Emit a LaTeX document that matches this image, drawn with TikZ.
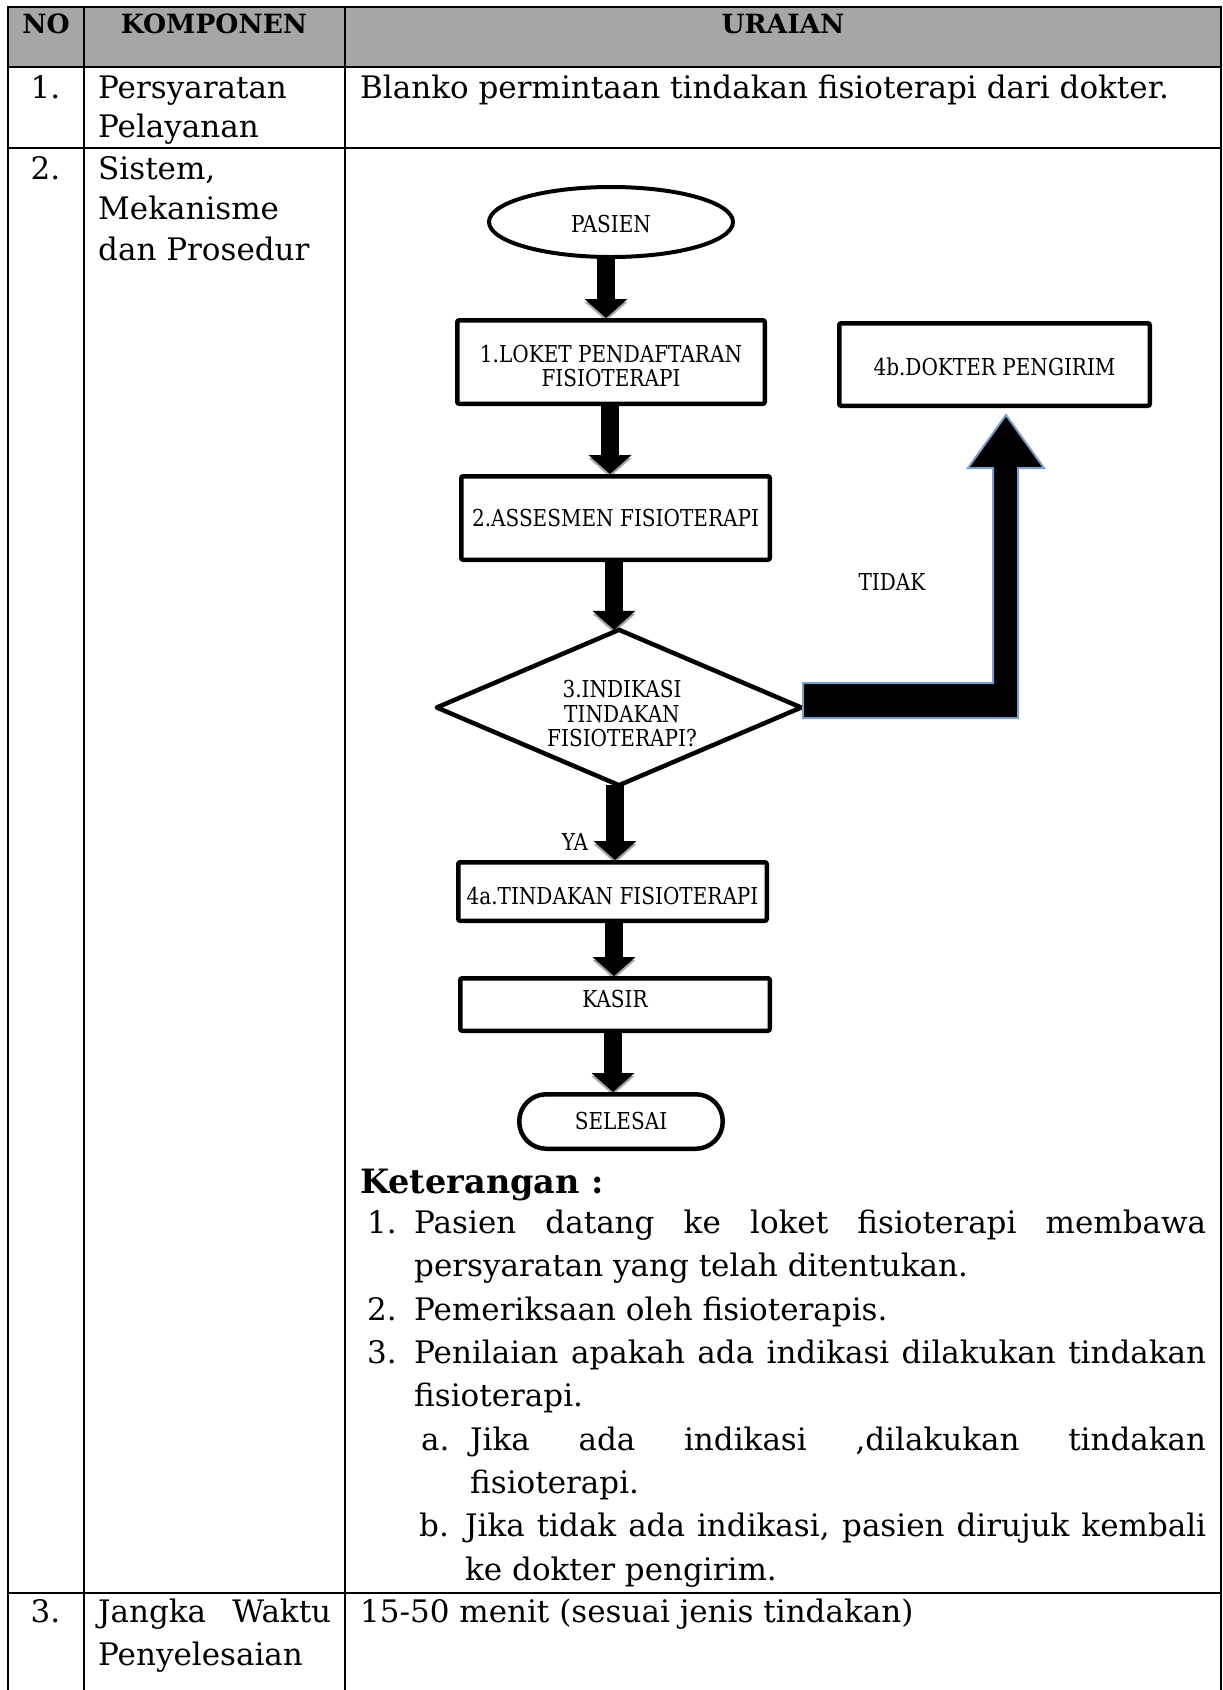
\documentclass[tikz,border=0pt]{standalone}
\usepackage{fontspec}
\setmainfont{DejaVu Serif}
\newfontfamily\flowfam[FakeStretch=0.86]{DejaVu Serif}
\usetikzlibrary{shapes.geometric,calc,arrows.meta,backgrounds}
\definecolor{hdrgray}{HTML}{A6A6A6}
\definecolor{elbowblue}{HTML}{7BA0C8}
\newcommand\myTab{\fontsize{31}{38}\selectfont}
\newcommand\myHead{\fontsize{26.5}{32}\selectfont\bfseries}
\newcommand\myFlow{\flowfam\fontsize{23.3}{24.5}\selectfont}
\tikzset{
  tline/.style={line width=2.5pt},
  txt/.style={anchor=base west, inner sep=0pt, font=\myTab},
  ctxt/.style={anchor=base, inner sep=0pt, font=\myTab},
  hdr/.style={anchor=base, inner sep=0pt, font=\myHead},
  fbox/.style={draw, fill=white, line width=4.5pt, rounded corners=2pt, font=\myFlow, align=center, inner sep=0pt},
  blk/.style={line width=18pt, black, -{Triangle[width=43pt,length=19pt,line width=0pt]}},
  blksh/.style={line width=18pt, black!35, -{Triangle[width=43pt,length=19pt,line width=0pt]}, transform canvas={yshift=-3pt}},
  flbl/.style={font=\myFlow, inner sep=0pt}
}
\begin{document}
\begin{tikzpicture}[x=1pt,y=-1pt]
\useasboundingbox (0,0) rectangle (1223,1690);
% table
\fill[hdrgray] (8,7) rectangle (1221,67);
\draw[tline] (8,1690) -- (8,7) -- (1221,7) -- (1221,1690);
\draw[tline] (84,7) -- (84,1690);
\draw[tline] (345,7) -- (345,1690);
\draw[tline] (8,67) -- (1221,67);
\draw[tline] (8,148) -- (1221,148);
\draw[tline] (8,1593) -- (1221,1593);
% header
\node[hdr] (hno) at (46,33) {NO};
\node[hdr] (hkomp) at (214,33) {KOMPONEN};
\node[hdr] (hur) at (783,33) {URAIAN};
% row 1
\node[ctxt] (n1) at (45.5,98) {1.};
\node[txt] (k1a) at (98,98) {Persyaratan};
\node[txt] (k1b) at (98,137) {Pelayanan};
\node[txt] (u1) at (360,98) {Blanko permintaan tindakan fisioterapi dari dokter.};
% row 2
\node[ctxt] (n2) at (45.5,179) {2.};
\node[txt] (k2a) at (98,179) {Sistem,};
\node[txt] (k2b) at (98,219.5) {Mekanisme};
\node[txt] (k2c) at (98,260) {dan Prosedur};
% row 3
\node[ctxt] (n3) at (45.5,1622) {3.};
\node[txt] (k3a) at (98,1622) {\makebox[233pt][s]{Jangka Waktu}};
\node[txt] (k3b) at (98,1665) {Penyelesaian};
\node[txt] (u3) at (360,1622) {15-50 menit (sesuai jenis tindakan)};
% keterangan
\node[txt, font=\fontsize{33.5}{38}\selectfont\bfseries] (ket) at (360,1193) {Keterangan :};
\node[txt] (l1n) at (367,1233) {1.};
\node[txt] (l1) at (414,1233) {\makebox[792pt][s]{Pasien datang ke loket fisioterapi membawa}};
\node[txt] (l1b) at (414,1276) {persyaratan yang telah ditentukan.};
\node[txt] (l2n) at (367,1320) {2.};
\node[txt] (l2) at (414,1320) {Pemeriksaan oleh fisioterapis.};
\node[txt] (l3n) at (367,1363) {3.};
\node[txt] (l3) at (414,1363) {\makebox[792pt][s]{Penilaian apakah ada indikasi dilakukan tindakan}};
\node[txt] (l3b) at (414,1406) {fisioterapi.};
\node[txt] (lan) at (421,1450) {a.};
\node[txt] (la) at (470,1450) {\makebox[736pt][s]{Jika ada indikasi ,dilakukan tindakan}};
\node[txt] (lab) at (470,1493) {fisioterapi.};
\node[txt] (lbn) at (419,1536) {b.};
\node[txt] (lb) at (465,1536) {\makebox[741pt][s]{Jika tidak ada indikasi, pasien dirujuk kembali}};
\node[txt] (lbb) at (465,1580) {ke dokter pengirim.};
% flowchart nodes
\node[ellipse, draw, fill=white, line width=4pt, minimum width=244pt, minimum height=70pt, font=\myFlow, inner sep=0pt, text height=21pt, text depth=0pt] (pasien) at (611,222) {PASIEN};
\node[fbox, minimum width=307.5pt, minimum height=83.5pt] (box1) at (611,362) {\rule{0pt}{25pt}1.LOKET PENDAFTARAN\\FISIOTERAPI};
\node[fbox, minimum width=310.5pt, minimum height=82.5pt, text height=21pt, text depth=0pt] (doc) at (994.5,364.5) {4b.DOKTER PENGIRIM};
\node[fbox, minimum width=308.5pt, minimum height=83.5pt] (box2) at (615.5,518) {2.ASSESMEN FISIOTERAPI};
\node[minimum width=364pt, minimum height=155pt, inner sep=0pt] (dia) at (619,707.5) {};
\draw[fill=white, line width=4.5pt, line join=round] (dia.north) -- (dia.east) -- (dia.south) -- (dia.west) -- cycle;
\node[flbl, align=center] (diat) at (622,714) {3.INDIKASI\\TINDAKAN\\FISIOTERAPI?};
\node[fbox, minimum width=308.5pt, minimum height=58.5pt, text height=25.6pt, text depth=0pt] (b4a) at (612.5,891.5) {4a.TINDAKAN FISIOTERAPI};
\node[fbox, minimum width=309.5pt, minimum height=52.5pt, text height=17pt, text depth=10.8pt] (kasir) at (615,1004.5) {KASIR};
\node[fbox, rounded corners=27pt, minimum width=203.5pt, minimum height=54.5pt] (sel) at (621,1121.5) {SELESAI};
\node[flbl] (tidak) at (892,582) {TIDAK};
\node[flbl] (ya) at (575,842) {YA};
% connectors
\coordinate (a1) at ($(pasien.south)+(-5,0)$);
\coordinate (a2) at ($(box1.south)+(-1,0)$);
\coordinate (a3) at ($(box2.south)+(-1.5,0)$);
\coordinate (a4) at ($(dia.south)+(-4,0)$);
\coordinate (a5) at ($(b4a.south)+(1.5,0)$);
\coordinate (a6) at ($(kasir.south)+(-2,0)$);
\coordinate (tA) at ($(dia.east)+(2,-24.5)$);
\coordinate (tB) at ($(dia.east)+(2,10.5)$);
\coordinate (tip) at ($(doc.south)+(11.5,7)$);
\coordinate (sL) at ($(tip)+(-13,53)$);
\coordinate (sR) at ($(tip)+(12,53)$);
\coordinate (hL) at ($(tip)+(-38,53)$);
\coordinate (hR) at ($(tip)+(38,53)$);
\begin{scope}[on background layer]
\foreach \s/\t in {a1/box1,a2/box2,a3/dia,a4/b4a,a5/kasir,a6/sel}{
  \draw[blksh] (\s) -- (\s |- \t.north);
  \draw[blk] (\s) -- (\s |- \t.north);
}
\end{scope}
\draw[fill=black, draw=elbowblue, line width=2pt, line join=miter]
  (tA) -- (tA -| sL) -- (sL) -- (hL) -- (tip) -- (hR) -- (sR) -- (tB -| sR) -- (tB) -- cycle;
\end{tikzpicture}
\end{document}
